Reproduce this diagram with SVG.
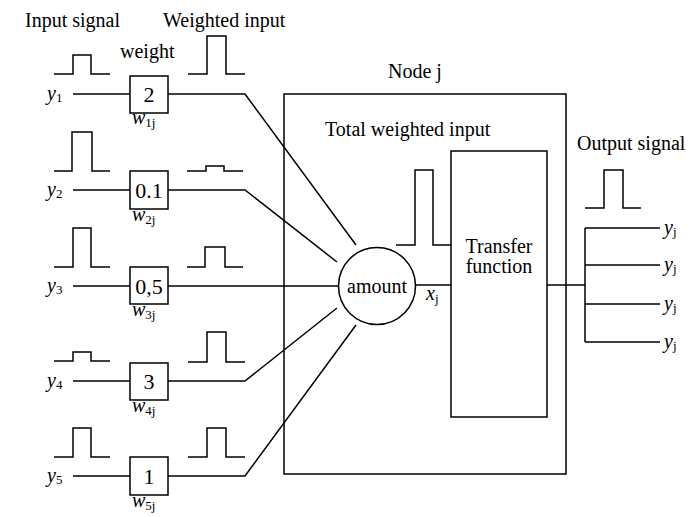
<svg xmlns="http://www.w3.org/2000/svg" width="698" height="517" viewBox="0 0 698 517">
<style>
.t{font-family:"Liberation Serif","Times New Roman",serif;font-size:20px;fill:#000}
.n{font-size:22px}
.i{font-style:italic}
.s{font-size:13px;font-style:normal}
.ln{stroke:#000;stroke-width:1.5;fill:none}
.bx{stroke:#000;stroke-width:1.5;fill:#fff}
</style>
<rect width="698" height="517" fill="#fff"/>
<g id="labels">
<text class="t" x="25" y="27">Input signal</text>
<text class="t" x="163" y="27">Weighted input</text>
<text class="t" x="120" y="58">weight</text>
<text class="t" x="415" y="78" text-anchor="middle">Node j</text>
<text class="t" x="577" y="150">Output signal</text>
</g>
<g id="node-j">
<rect class="ln" x="284" y="94" width="282" height="380"/>
<text class="t" x="325" y="136">Total weighted input</text>
</g>
<g id="input-pulses">
<path class="ln" d="M54,74H73V55H91V74H110"/>
<path class="ln" d="M54,171H72V132H92V171H110"/>
<path class="ln" d="M54,267H73V228H91V267H110"/>
<path class="ln" d="M54,361H73V352H91V361H110"/>
<path class="ln" d="M54,457H73V428H91V457H110"/>
</g>
<g id="weighted-pulses">
<path class="ln" d="M188,74H207V36H226V74H245"/>
<path class="ln" d="M187,171H206V166H224V171H243"/>
<path class="ln" d="M187,267H205V247H225V267H243"/>
<path class="ln" d="M188,362H207V332H226V362H245"/>
<path class="ln" d="M188,457H207V428H226V457H245"/>
</g>
<g id="connectors">
<path class="ln" d="M73,94H130M168,94H245L356,245"/>
<path class="ln" d="M73,190H130M168,190H245L337,262"/>
<path class="ln" d="M73,286H130M168,286H338"/>
<path class="ln" d="M73,381H130M168,381H245L337,308"/>
<path class="ln" d="M73,476H130M168,476H245L356,325"/>
<path class="ln" d="M416,285H451"/>
<path class="ln" d="M547,285H585"/>
<path class="ln" d="M585,228V342M585,228H660M585,265H660M585,304H660M585,342H660"/>
</g>
<g id="inputs">
<text class="t i" x="47" y="100">y<tspan class="s" dy="2">1</tspan></text>
<text class="t i" x="47" y="196">y<tspan class="s" dy="2">2</tspan></text>
<text class="t i" x="47" y="292">y<tspan class="s" dy="2">3</tspan></text>
<text class="t i" x="47" y="387">y<tspan class="s" dy="2">4</tspan></text>
<text class="t i" x="47" y="482">y<tspan class="s" dy="2">5</tspan></text>
</g>
<g id="weight-1">
<rect class="bx" x="130" y="76" width="38" height="37"/>
<text class="t n" x="149" y="102" text-anchor="middle">2</text>
<text class="t i" x="132" y="124">w<tspan class="s" dy="3">1j</tspan></text>
</g>
<g id="weight-2">
<rect class="bx" x="130" y="171" width="38" height="38"/>
<text class="t n" x="149" y="198" text-anchor="middle">0.1</text>
<text class="t i" x="132" y="221">w<tspan class="s" dy="3">2j</tspan></text>
</g>
<g id="weight-3">
<rect class="bx" x="130" y="267" width="38" height="37"/>
<text class="t n" x="149" y="294" text-anchor="middle">0,5</text>
<text class="t i" x="132" y="316">w<tspan class="s" dy="3">3j</tspan></text>
</g>
<g id="weight-4">
<rect class="bx" x="130" y="363" width="38" height="37"/>
<text class="t n" x="149" y="389" text-anchor="middle">3</text>
<text class="t i" x="132" y="412">w<tspan class="s" dy="3">4j</tspan></text>
</g>
<g id="weight-5">
<rect class="bx" x="130" y="457" width="38" height="38"/>
<text class="t n" x="149" y="484" text-anchor="middle">1</text>
<text class="t i" x="132" y="507">w<tspan class="s" dy="3">5j</tspan></text>
</g>
<g id="sum">
<path class="ln" d="M396,245H415V170H433V245H451"/>
<circle class="bx" cx="377" cy="286" r="38.5"/>
<text class="t" x="377" y="293" text-anchor="middle">amount</text>
<text class="t i" x="426" y="300">x<tspan class="s" dy="3">j</tspan></text>
</g>
<g id="transfer">
<rect class="ln" x="451" y="151" width="96" height="266"/>
<text class="t" x="499" y="253" text-anchor="middle">Transfer</text>
<text class="t" x="499" y="273" text-anchor="middle">function</text>
</g>
<g id="output">
<path class="ln" d="M585,208H604V170H623V208H641"/>
<text class="t i" x="664" y="234">y<tspan class="s" dy="2">j</tspan></text>
<text class="t i" x="664" y="271">y<tspan class="s" dy="2">j</tspan></text>
<text class="t i" x="664" y="310">y<tspan class="s" dy="2">j</tspan></text>
<text class="t i" x="664" y="348">y<tspan class="s" dy="2">j</tspan></text>
</g>
</svg>
